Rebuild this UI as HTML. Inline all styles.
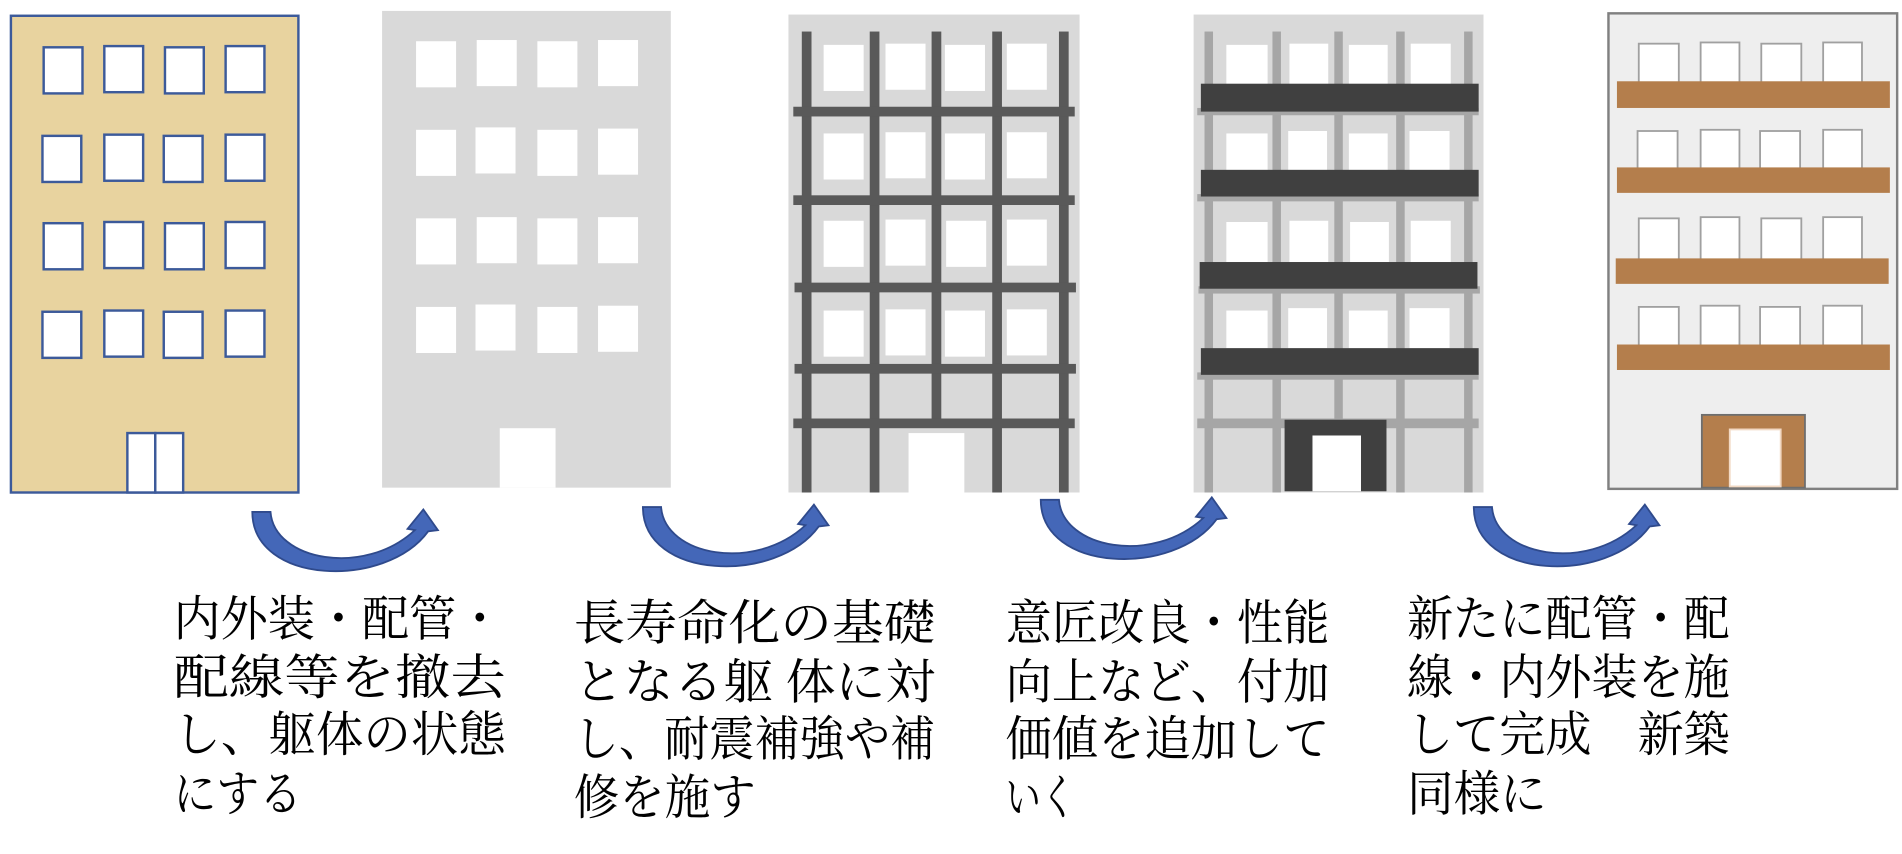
<!DOCTYPE html>
<html><head><meta charset="utf-8"><style>
html,body{margin:0;padding:0;background:#fff;}
svg{display:block;}
text{font-family:"Liberation Serif","Noto Serif CJK SC","Noto Sans CJK JP",serif;font-size:40px;fill:#000;}
</style></head><body>
<svg width="1902" height="854" viewBox="0 0 1568 704" preserveAspectRatio="none" xmlns="http://www.w3.org/2000/svg">
<defs>
<path id="arr" d="M208,422 L223,422 C226,462 300,476 342,437 L336,436 L349,420 L361,437 L353,438 C318,486 208,482 208,422 Z" fill="#4467b8" stroke="#2f4a8c" stroke-width="1.5"/>
</defs>
<!-- Building 1 -->
<rect x="9" y="13" width="237" height="393" fill="#e8d39f" stroke="#3c5a9a" stroke-width="2"/>
<g fill="#fff" stroke="#3c5a9a" stroke-width="2">
<rect x="36" y="39" width="32" height="38"/><rect x="86" y="38" width="32" height="38"/><rect x="136" y="39" width="32" height="38"/><rect x="186" y="38" width="32" height="38"/>
<rect x="35" y="112" width="32" height="38"/><rect x="86" y="111" width="32" height="38"/><rect x="135" y="112" width="32" height="38"/><rect x="186" y="111" width="32" height="38"/>
<rect x="36" y="184" width="32" height="38"/><rect x="86" y="183" width="32" height="38"/><rect x="136" y="184" width="32" height="38"/><rect x="186" y="183" width="32" height="38"/>
<rect x="35" y="257" width="32" height="38"/><rect x="86" y="256" width="32" height="38"/><rect x="135" y="257" width="32" height="38"/><rect x="186" y="256" width="32" height="38"/>
<rect x="105" y="357" width="23" height="49"/><rect x="128" y="357" width="23" height="49"/>
</g>
<!-- Building 2 -->
<rect x="315" y="9" width="238" height="393" fill="#d9d9d9"/>
<g fill="#fff">
<rect x="343" y="34" width="33" height="38"/><rect x="393" y="33" width="33" height="38"/><rect x="443" y="34" width="33" height="38"/><rect x="493" y="33" width="33" height="38"/>
<rect x="343" y="107" width="33" height="38"/><rect x="392" y="105" width="33" height="38"/><rect x="443" y="107" width="33" height="38"/><rect x="493" y="106" width="33" height="38"/>
<rect x="343" y="180" width="33" height="38"/><rect x="393" y="179" width="33" height="38"/><rect x="443" y="180" width="33" height="38"/><rect x="493" y="179" width="33" height="38"/>
<rect x="343" y="253" width="33" height="38"/><rect x="392" y="251" width="33" height="38"/><rect x="443" y="253" width="33" height="38"/><rect x="493" y="252" width="33" height="38"/>
<rect x="412" y="353" width="46" height="49"/>
</g>
<!-- Building 3 -->
<rect x="650" y="12" width="240" height="394" fill="#d9d9d9"/>
<g fill="#fff">
<rect x="679" y="37" width="33" height="38"/><rect x="730" y="36" width="33" height="38"/><rect x="779" y="37" width="33" height="38"/><rect x="830" y="36" width="33" height="38"/>
<rect x="679" y="110" width="33" height="38"/><rect x="730" y="109" width="33" height="38"/><rect x="779" y="110" width="33" height="38"/><rect x="830" y="109" width="33" height="38"/>
<rect x="679" y="182" width="33" height="38"/><rect x="730" y="181" width="33" height="38"/><rect x="780" y="182" width="33" height="38"/><rect x="830" y="181" width="33" height="38"/>
<rect x="679" y="256" width="33" height="38"/><rect x="730" y="255" width="33" height="38"/><rect x="779" y="256" width="33" height="38"/><rect x="830" y="255" width="33" height="38"/>
<rect x="749" y="357" width="46" height="49"/>
</g>
<g fill="#595959">
<rect x="661" y="26" width="8" height="380"/><rect x="717" y="26" width="8" height="380"/><rect x="768" y="26" width="8" height="320"/><rect x="818" y="26" width="8" height="380"/><rect x="873" y="26" width="8" height="380"/>
<rect x="654" y="88" width="232" height="8"/><rect x="654" y="161" width="232" height="8"/><rect x="655" y="233" width="232" height="8"/><rect x="655" y="300" width="232" height="8"/><rect x="654" y="345" width="232" height="8"/>
</g>
<!-- Building 4 -->
<rect x="984" y="12" width="239" height="394" fill="#d9d9d9"/>
<g fill="#fff">
<rect x="1011" y="37" width="34" height="33"/><rect x="1063" y="36" width="32" height="34"/><rect x="1112" y="37" width="32" height="33"/><rect x="1163" y="36" width="33" height="34"/>
<rect x="1011" y="110" width="34" height="31"/><rect x="1062" y="108" width="32" height="33"/><rect x="1112" y="110" width="32" height="31"/><rect x="1162" y="108" width="33" height="33"/>
<rect x="1011" y="183" width="34" height="33"/><rect x="1063" y="182" width="32" height="34"/><rect x="1113" y="183" width="32" height="33"/><rect x="1163" y="182" width="33" height="34"/>
<rect x="1011" y="256" width="34" height="31"/><rect x="1062" y="254" width="32" height="33"/><rect x="1112" y="256" width="32" height="31"/><rect x="1162" y="254" width="33" height="33"/>
</g>
<g fill="#a6a6a6">
<rect x="993" y="26" width="7" height="380"/><rect x="1049" y="26" width="7" height="380"/><rect x="1100" y="26" width="7" height="320"/><rect x="1151" y="26" width="7" height="380"/><rect x="1207" y="26" width="7" height="380"/>
<rect x="987" y="89" width="232" height="6"/><rect x="987" y="160" width="232" height="6"/><rect x="988" y="236" width="232" height="6"/><rect x="987" y="307" width="232" height="6"/><rect x="987" y="345" width="232" height="8"/>
</g>
<g fill="#404040">
<rect x="990" y="69" width="229" height="23"/><rect x="990" y="140" width="229" height="22"/><rect x="989" y="216" width="229" height="22"/><rect x="990" y="287" width="229" height="22"/>
<rect x="1059" y="346" width="84" height="59"/>
</g>
<rect x="1082" y="359" width="40" height="46" fill="#fff"/>
<!-- Building 5 -->
<rect x="1326" y="11" width="238" height="392" fill="#eeeeee" stroke="#808080" stroke-width="2"/>
<g fill="#fff" stroke="#a0a0a0" stroke-width="1.5">
<rect x="1351" y="36" width="33" height="32"/><rect x="1402" y="35" width="32" height="33"/><rect x="1452" y="36" width="33" height="32"/><rect x="1503" y="35" width="32" height="33"/>
<rect x="1350" y="108" width="33" height="31"/><rect x="1402" y="107" width="32" height="32"/><rect x="1451" y="108" width="33" height="31"/><rect x="1503" y="107" width="32" height="32"/>
<rect x="1351" y="180" width="33" height="34"/><rect x="1402" y="179" width="32" height="35"/><rect x="1452" y="180" width="33" height="34"/><rect x="1503" y="179" width="32" height="35"/>
<rect x="1351" y="253" width="33" height="32"/><rect x="1402" y="252" width="32" height="33"/><rect x="1451" y="253" width="33" height="32"/><rect x="1503" y="252" width="32" height="33"/>
</g>
<g fill="#b47e4c">
<rect x="1333" y="67" width="225" height="22"/><rect x="1333" y="138" width="225" height="21"/><rect x="1332" y="213" width="225" height="21"/><rect x="1333" y="284" width="225" height="21"/>
<rect x="1403" y="342" width="85" height="60" stroke="#6e6e6e" stroke-width="1.5"/>
</g>
<rect x="1426" y="354" width="42" height="47" fill="#fff" stroke="#f2d9c4" stroke-width="1.5"/>
<!-- Arrows -->
<use href="#arr"/>
<use href="#arr" transform="translate(322,-4)"/>
<use href="#arr" transform="translate(650,-10)"/>
<use href="#arr" transform="translate(1007,-4)"/>
<!-- Text -->
<text x="143" y="524" textLength="272" lengthAdjust="spacingAndGlyphs">内外装・配管・</text>
<text x="143" y="572" textLength="274" lengthAdjust="spacingAndGlyphs">配線等を撤去</text>
<text x="143" y="619" textLength="274" lengthAdjust="spacingAndGlyphs">し、躯体の状態</text>
<text x="143" y="668" textLength="106" lengthAdjust="spacingAndGlyphs">にする</text>

<text x="473" y="527" textLength="298" lengthAdjust="spacingAndGlyphs">長寿命化の基礎</text>
<text x="473" y="576" textLength="298" lengthAdjust="spacingAndGlyphs">となる躯 体に対</text>
<text x="473" y="623" textLength="298" lengthAdjust="spacingAndGlyphs">し、耐震補強や補</text>
<text x="473" y="671" textLength="150" lengthAdjust="spacingAndGlyphs">修を施す</text>

<text x="829" y="527" textLength="267" lengthAdjust="spacingAndGlyphs">意匠改良・性能</text>
<text x="829" y="576" textLength="267" lengthAdjust="spacingAndGlyphs">向上など、付加</text>
<text x="829" y="623" textLength="267" lengthAdjust="spacingAndGlyphs">価値を追加して</text>
<text x="829" y="671" textLength="58" lengthAdjust="spacingAndGlyphs">いく</text>

<text x="1160" y="524" textLength="266" lengthAdjust="spacingAndGlyphs">新たに配管・配</text>
<text x="1160" y="572" textLength="266" lengthAdjust="spacingAndGlyphs">線・内外装を施</text>
<text x="1160" y="619" textLength="266" lengthAdjust="spacingAndGlyphs">して完成　新築</text>
<text x="1160" y="668" textLength="115" lengthAdjust="spacingAndGlyphs">同様に</text>
</svg>
</body></html>
